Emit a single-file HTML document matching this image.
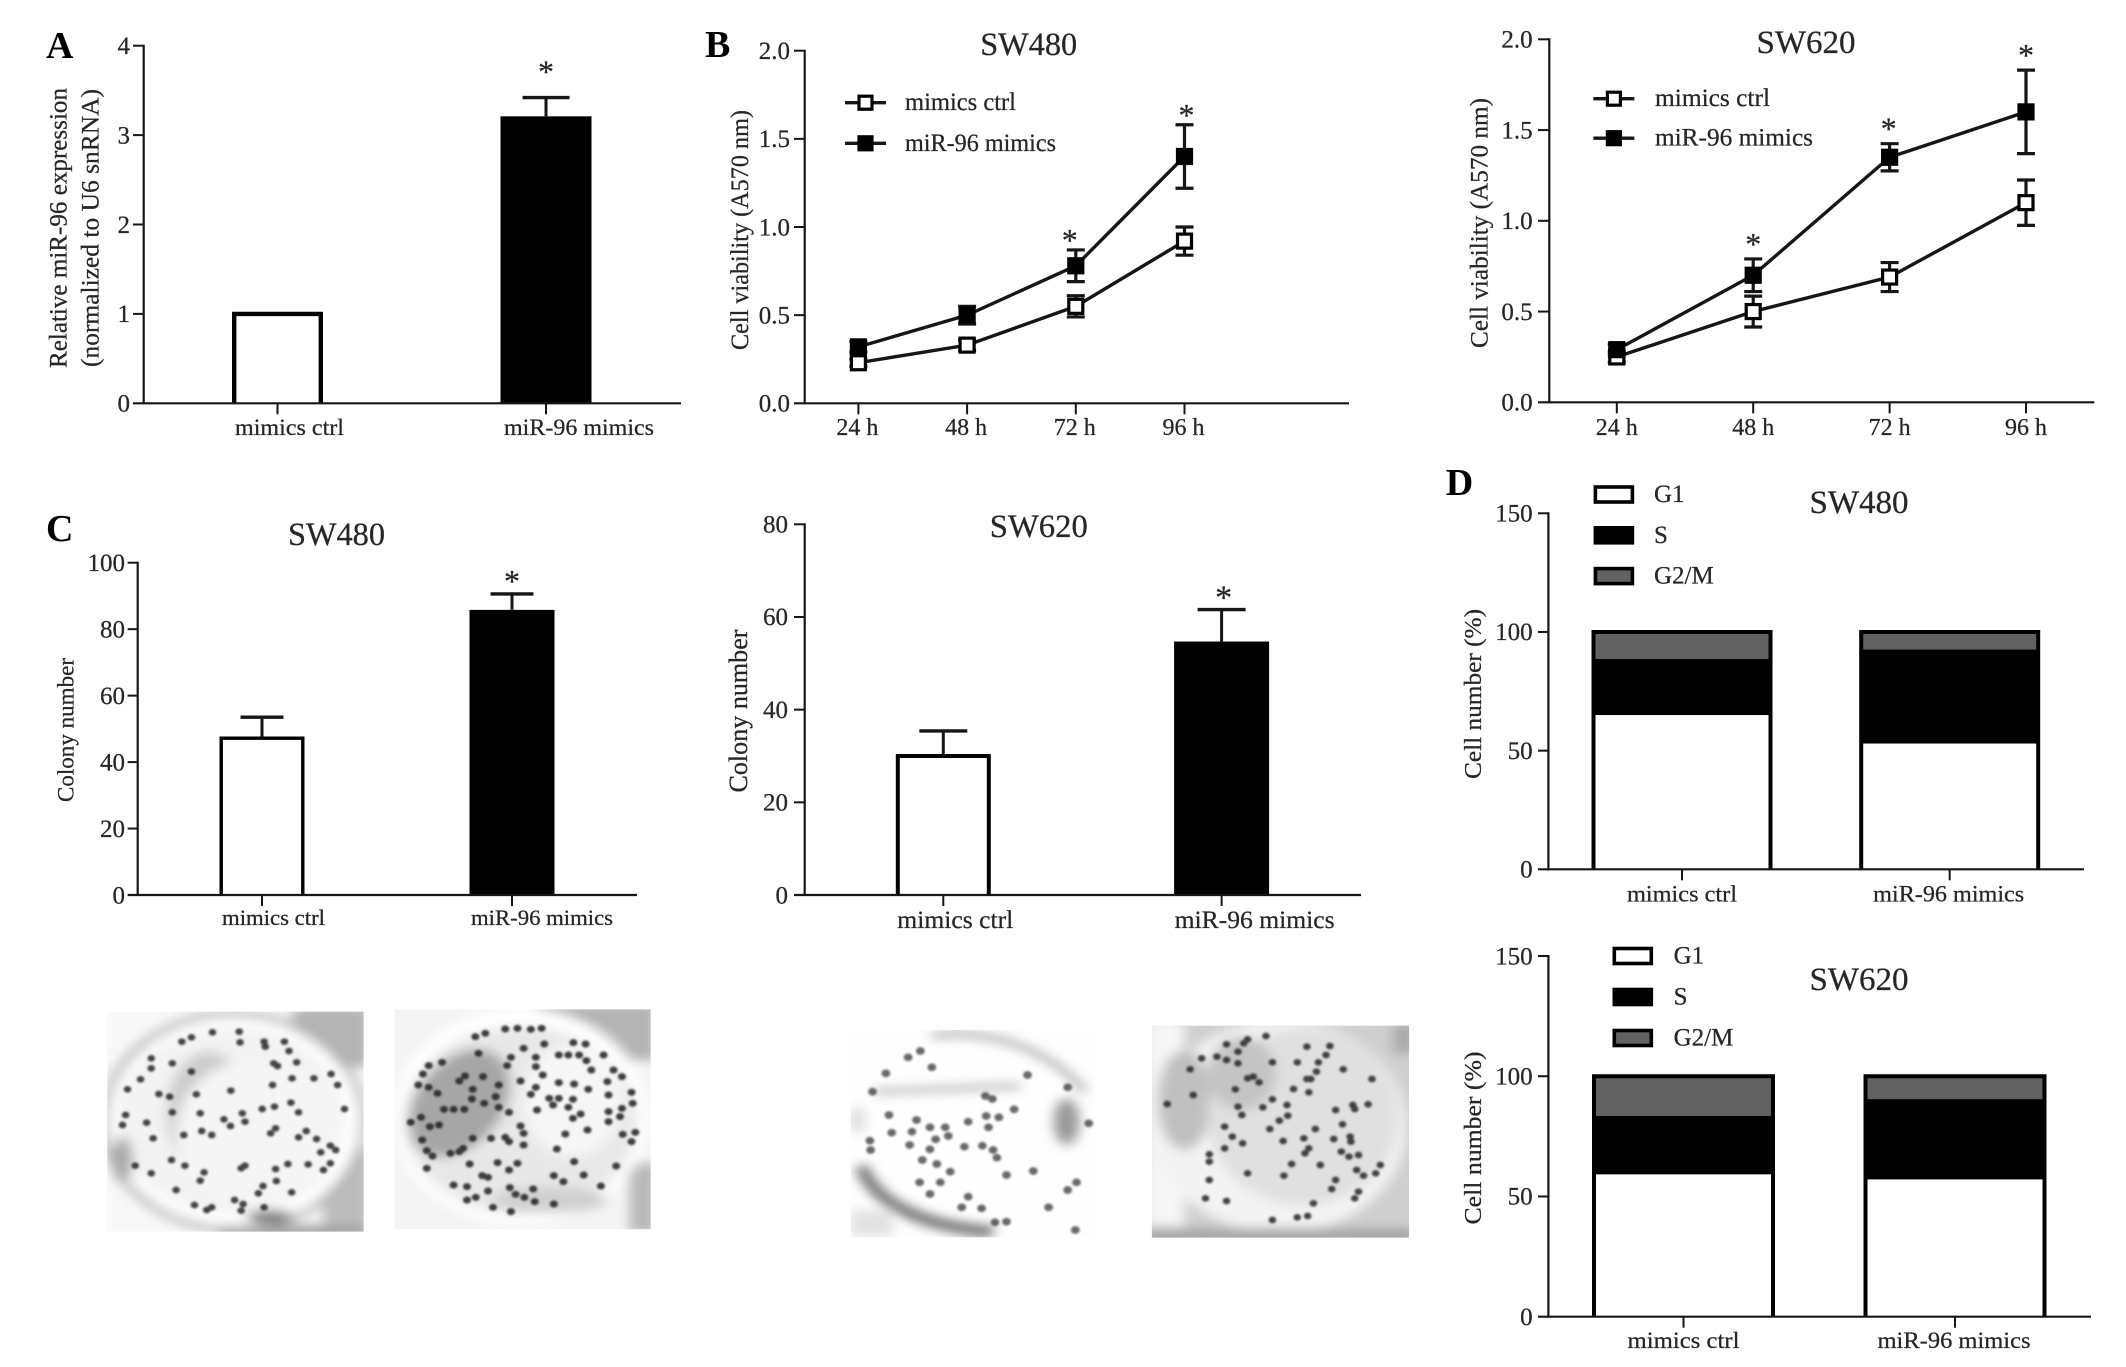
<!DOCTYPE html>
<html lang="en">
<head>
<meta charset="utf-8">
<title>miR-96 figure panels</title>
<style>
html,body{margin:0;padding:0;background:#fff;}
svg{display:block;font-family:"Liberation Serif",serif;}
</style>
</head>
<body>
<svg id="figure" width="2126" height="1367" viewBox="0 0 2126 1367" xmlns="http://www.w3.org/2000/svg">
<defs>
<filter id="soft" x="-10%" y="-10%" width="120%" height="120%"><feGaussianBlur stdDeviation="16"/></filter>
<filter id="dotblur" x="-5%" y="-5%" width="110%" height="110%"><feGaussianBlur stdDeviation="3"/></filter>
<filter id="inkblur" x="-5%" y="-5%" width="110%" height="110%"><feGaussianBlur stdDeviation="0.35"/></filter>
<clipPath id="clip-p1"><rect x="45" y="35" width="670" height="660"/></clipPath>
<clipPath id="clip-p2"><rect x="795" y="28" width="670" height="660"/></clipPath>
<clipPath id="clip-p3"><rect x="28" y="60" width="640" height="622"/></clipPath>
<clipPath id="clip-p4"><rect x="815" y="47" width="672" height="636"/></clipPath>
</defs>
<rect width="2126" height="1367" fill="#fff"/>

<g transform="translate(90,1000) scale(0.3827,0.3333)">
  <g clip-path="url(#clip-p1)">
    <rect x="45" y="35" width="670" height="660" fill="#f8f8f8"/>
    <g filter="url(#soft)">
      <rect x="530" y="20" width="200" height="180" fill="#b4b4b4"/>
      <rect x="610" y="450" width="120" height="260" fill="#bcbcbc"/>
      <rect x="340" y="676" width="380" height="40" fill="#a0a0a0"/>
      <ellipse cx="375" cy="365" rx="340" ry="324" fill="none" stroke="#b0b0b0" stroke-width="18"/>
      <ellipse cx="378" cy="365" rx="326" ry="312" fill="#fff"/>
      <ellipse cx="368" cy="360" rx="298" ry="280" fill="#f3f3f3"/>
      <ellipse cx="310" cy="340" rx="110" ry="185" fill="#cccccc"/>
      <ellipse cx="440" cy="400" rx="215" ry="225" fill="#f5f5f5"/>
      <ellipse cx="470" cy="650" rx="62" ry="20" fill="#7a7a7a"/>
      <ellipse cx="85" cy="480" rx="26" ry="70" fill="#a8a8a8"/>
    </g>
    <path filter="url(#dotblur)" fill="none" stroke="#262626" stroke-width="20" stroke-linecap="round" stroke-opacity=".85" d="M265 112h0M240 125h0M320 97h0M390 95h0M392 127h0M455 125h0M458 140h0M508 125h0M520 153h0M160 175h0M160 205h0M215 190h0M265 215h0M132 238h0M98 268h0M180 282h0M208 290h0M278 283h0M368 272h0M477 255h0M480 190h0M490 198h0M540 187h0M528 235h0M585 235h0M630 222h0M647 255h0M215 337h0M288 340h0M93 345h0M148 368h0M85 375h0M350 358h0M367 378h0M405 365h0M398 340h0M450 327h0M482 320h0M525 308h0M545 337h0M665 327h0M245 405h0M292 393h0M318 405h0M472 400h0M485 385h0M545 412h0M565 393h0M592 417h0M628 437h0M642 450h0M603 457h0M165 415h0M118 497h0M160 520h0M213 480h0M248 497h0M298 517h0M288 542h0M225 570h0M395 505h0M405 497h0M485 507h0M517 492h0M570 493h0M610 510h0M628 490h0M487 543h0M452 558h0M527 577h0M273 615h0M318 622h0M305 630h0M378 600h0M400 612h0M395 632h0M455 622h0M440 580h0"/>
  </g>
  <g clip-path="url(#clip-p2)">
    <rect x="795" y="28" width="670" height="660" fill="#f4f4f4"/>
    <g filter="url(#soft)">
      <rect x="1170" y="10" width="310" height="170" fill="#b4b4b4"/>
      <rect x="1410" y="490" width="70" height="210" fill="#b8b8b8"/>
      <ellipse cx="1125" cy="350" rx="335" ry="325" fill="#fff"/>
      <ellipse cx="1125" cy="360" rx="305" ry="282" fill="#e8e8e8"/>
      <ellipse cx="965" cy="310" rx="115" ry="175" fill="#a6a6a6" transform="rotate(30 965 310)"/>
      <ellipse cx="1260" cy="300" rx="130" ry="170" fill="#f6f6f6"/>
      <ellipse cx="1200" cy="600" rx="150" ry="40" fill="#d0d0d0"/>
    </g>
    <path filter="url(#dotblur)" fill="none" stroke="#222" stroke-width="21" stroke-linecap="round" stroke-opacity=".88" d="M1007 110h0M1033 100h0M1085 87h0M1117 85h0M1152 88h0M1180 85h0M1133 145h0M1187 132h0M1263 128h0M1295 132h0M1015 160h0M1100 172h0M1165 172h0M1225 165h0M1250 165h0M1278 165h0M1297 182h0M1342 165h0M1310 210h0M1368 210h0M885 197h0M920 187h0M870 222h0M980 228h0M965 243h0M1027 230h0M1090 197h0M1165 200h0M1183 225h0M1390 230h0M858 255h0M885 262h0M908 280h0M1068 255h0M1000 268h0M1125 243h0M1165 262h0M1225 248h0M1265 252h0M1302 268h0M1352 245h0M1355 285h0M1415 277h0M1060 290h0M1030 310h0M998 297h0M1200 295h0M1225 295h0M1262 298h0M1210 315h0M1152 283h0M925 328h0M950 328h0M978 328h0M1068 322h0M1095 337h0M1168 330h0M1250 322h0M1282 342h0M1262 355h0M1355 335h0M1355 365h0M1390 325h0M1385 350h0M1418 310h0M865 352h0M838 367h0M888 380h0M912 375h0M1125 378h0M1133 400h0M1133 435h0M1000 415h0M1048 415h0M1095 425h0M1085 412h0M1242 402h0M1300 390h0M1392 403h0M1425 397h0M1415 425h0M868 420h0M975 445h0M965 455h0M880 452h0M895 468h0M942 460h0M1220 447h0M1265 485h0M992 492h0M1065 488h0M1117 490h0M1375 498h0M880 505h0M1095 510h0M1212 527h0M1237 545h0M1290 525h0M1040 532h0M1025 527h0M950 555h0M985 560h0M1097 563h0M1158 567h0M1040 573h0M1112 583h0M1135 592h0M1335 558h0M1008 592h0M1162 605h0M1212 612h0M1053 622h0M1100 635h0M985 600h0"/>
  </g>
</g>

<g transform="translate(840,1010) scale(0.3827,0.3333)">
  <g clip-path="url(#clip-p3)">
    <rect x="28" y="60" width="640" height="622" fill="#fefefe"/>
    <g filter="url(#soft)">
      <path d="M55 470C90 570 200 650 400 665" fill="none" stroke="#707070" stroke-width="34"/>
      <path d="M240 78C400 50 560 130 640 245" fill="none" stroke="#a8a8a8" stroke-width="18"/>
      <path d="M90 245L470 228" fill="none" stroke="#a4a4a4" stroke-width="14"/>
      <ellipse cx="592" cy="335" rx="34" ry="70" fill="#9a9a9a"/>
      <rect x="28" y="600" width="110" height="80" fill="#e2e2e2"/>
      <rect x="28" y="295" width="36" height="70" fill="#dcdcdc"/>
    </g>
    <path filter="url(#dotblur)" fill="none" stroke="#2a2a2a" stroke-width="23" stroke-linecap="round" stroke-opacity=".7" d="M210 123h0M178 142h0M240 172h0M120 190h0M490 195h0M85 245h0M380 258h0M398 267h0M455 298h0M595 232h0M128 315h0M200 330h0M235 352h0M275 352h0M335 335h0M382 318h0M415 322h0M188 365h0M135 368h0M283 378h0M250 388h0M388 352h0M650 340h0M78 392h0M80 420h0M182 405h0M235 418h0M325 410h0M372 407h0M400 420h0M410 443h0M215 450h0M253 462h0M288 485h0M435 495h0M505 483h0M208 517h0M262 517h0M618 517h0M595 540h0M335 560h0M235 552h0M545 592h0M370 595h0M318 592h0M405 637h0M435 635h0M615 660h0"/>
  </g>
  <g clip-path="url(#clip-p4)">
    <rect x="815" y="47" width="672" height="636" fill="#cfcfcf"/>
    <g filter="url(#soft)">
      <rect x="800" y="30" width="100" height="620" fill="#f6f6f6"/>
      <ellipse cx="1150" cy="350" rx="332" ry="320" fill="#f3f3f3"/>
      <ellipse cx="900" cy="270" rx="70" ry="150" fill="#c0c0c0"/>
      <ellipse cx="1210" cy="320" rx="250" ry="265" fill="#e0e0e0"/>
      <ellipse cx="1050" cy="190" rx="90" ry="110" fill="#c4c4c4"/>
      <rect x="800" y="655" width="700" height="50" fill="#a6a6a6"/>
      <rect x="1445" y="40" width="60" height="90" fill="#aaa"/>
    </g>
    <path filter="url(#dotblur)" fill="none" stroke="#262626" stroke-width="20" stroke-linecap="round" stroke-opacity=".85" d="M1113 78h0M1065 88h0M1055 100h0M1010 103h0M1040 125h0M1130 157h0M1040 160h0M1010 150h0M985 140h0M945 145h0M915 178h0M1065 205h0M1080 200h0M1095 217h0M1220 110h0M1280 108h0M1270 135h0M1195 157h0M1250 157h0M1245 185h0M1315 178h0M1220 207h0M1230 207h0M1390 207h0M1225 247h0M1185 237h0M1033 238h0M923 255h0M855 282h0M1130 268h0M1105 292h0M1040 290h0M1168 285h0M1340 285h0M1380 283h0M1345 297h0M1295 300h0M1050 315h0M1170 317h0M1148 332h0M1005 350h0M1123 357h0M1242 357h0M1313 343h0M1025 380h0M1052 400h0M1158 393h0M1212 385h0M1290 387h0M1333 380h0M1335 395h0M1005 415h0M1225 415h0M1215 430h0M1310 425h0M1355 435h0M1330 440h0M1180 462h0M1255 465h0M1412 465h0M1065 490h0M1160 497h0M1350 480h0M1368 497h0M1400 490h0M965 510h0M1295 510h0M1285 537h0M1355 545h0M1345 565h0M955 565h0M1010 573h0M1237 580h0M1130 630h0M1195 622h0M1222 618h0M965 433h0M965 455h0"/>
  </g>
</g>
</svg>

<script>
const NS = 'http://www.w3.org/2000/svg';
const root = document.getElementById('figure');

/* ---------- chart data ---------- */
const barCategories = ['mimics ctrl', 'miR-96 mimics'];
const timeCategories = ['24 h', '48 h', '72 h', '96 h'];
const seriesNames = ['mimics ctrl', 'miR-96 mimics'];
const phaseNames = ['G1', 'S', 'G2/M'];

const expressionTicks = [0, 1, 2, 3, 4];
const expressionValues = [1, 3.21];
const expressionErrors = [0, 0.21];
const expressionStars = ['', '*'];

const viabilityTicks = [0, 0.5, 1, 1.5, 2];

const sw480Ctrl = [0.23, 0.33, 0.55, 0.92];
const sw480CtrlErr = [0.02, 0.03, 0.06, 0.08];
const sw480Mimics = [0.32, 0.50, 0.78, 1.40];
const sw480MimicsErr = [0.03, 0.05, 0.09, 0.18];
const sw480Stars = ['', '', '*', '*'];

const sw620Ctrl = [0.25, 0.50, 0.69, 1.10];
const sw620CtrlErr = [0.03, 0.085, 0.08, 0.125];
const sw620Mimics = [0.29, 0.70, 1.35, 1.60];
const sw620MimicsErr = [0.03, 0.09, 0.075, 0.23];
const sw620Stars = ['', '*', '*', '*'];

const colony480Ticks = [0, 20, 40, 60, 80, 100];
const colony480Values = [47.2, 85.8];
const colony480Errors = [6.3, 4.8];
const colony480Stars = ['', '*'];

const colony620Ticks = [0, 20, 40, 60, 80];
const colony620Values = [30, 54.7];
const colony620Errors = [5.4, 6.9];
const colony620Stars = ['', '*'];

const cycleTicks = [0, 50, 100, 150];
const cycle480G1 = [65, 53];
const cycle480S = [23.6, 39.7];
const cycle480G2M = [11.4, 7.3];
const cycle620G1 = [59.2, 57.1];
const cycle620S = [24.4, 33.4];
const cycle620G2M = [16.4, 9.5];

/* ---------- primitives ---------- */
const INK = '#161616';
const TEXT = '#262626';

function group(parent, name) {
  const el = document.createElementNS(NS, 'g');
  
  
  parent.appendChild(el);
  return el;
}
function line(parent, name, x1, y1, x2, y2, w) {
  const el = document.createElementNS(NS, 'line');
  
  
  el.setAttribute('x1', x1); el.setAttribute('y1', y1);
  el.setAttribute('x2', x2); el.setAttribute('y2', y2);
  el.setAttribute('stroke', INK);
  el.setAttribute('stroke-width', w);
  parent.appendChild(el);
  return el;
}
function rect(parent, name, x, y, w, h, fill, stroke, sw) {
  const el = document.createElementNS(NS, 'rect');
  
  
  el.setAttribute('x', x); el.setAttribute('y', y);
  el.setAttribute('width', w); el.setAttribute('height', h);
  el.setAttribute('fill', fill);
  if (stroke) { el.setAttribute('stroke', stroke); el.setAttribute('stroke-width', sw); }
  parent.appendChild(el);
  return el;
}
function polyline(parent, name, pts, w, color) {
  const el = document.createElementNS(NS, 'polyline');
  
  
  el.setAttribute('points', pts.map(p => p.join(',')).join(' '));
  el.setAttribute('fill', 'none');
  el.setAttribute('stroke', color || INK);
  el.setAttribute('stroke-width', w);
  parent.appendChild(el);
  return el;
}
function text(parent, name, str, x, y, size, o) {
  o = o || {};
  const el = document.createElementNS(NS, 'text');
  
  
  el.setAttribute('font-size', size);
  el.setAttribute('fill', o.fill || TEXT);
  el.setAttribute('text-anchor', o.anchor || 'start');
  if (o.weight) el.setAttribute('font-weight', o.weight);
  else { el.setAttribute('stroke', TEXT); el.setAttribute('stroke-width', '0.25'); }
  if (o.len) { el.setAttribute('textLength', o.len); el.setAttribute('lengthAdjust', 'spacingAndGlyphs'); }
  if (o.rotate) {
    el.setAttribute('transform', 'translate(' + x + ',' + y + ') rotate(-90)');
    el.setAttribute('x', 0); el.setAttribute('y', 0);
  } else {
    el.setAttribute('x', x); el.setAttribute('y', y);
  }
  el.textContent = str;
  parent.appendChild(el);
  return el;
}

/* ---------- axes ---------- */
function linearY(zero, top, max) {
  return v => zero - (v / max) * (zero - top);
}
function bandX(first, step) {
  return i => first + i * step;
}
function drawYAxis(g, c, y, ticks, fmt) {
  line(g, 'y-axis-line', c.axisX, c.top - 1, c.axisX, c.zero + 1, 2.2);
  ticks.forEach(t => {
    if (t !== ticks[0]) line(g, 'y-tick', c.tickLeft, y(t), c.axisX, y(t), 2);
    text(g, 'y-tick-label', fmt(t), c.labelRight, y(t) + c.tickSize * 0.33, c.tickSize, { anchor: 'end' });
  });
}
function drawXAxis(g, c) {
  line(g, 'x-axis-line', c.tickLeft, c.zero, c.xEnd, c.zero, 2.2);
}
function drawTitle(g, str, x, y, size, len) {
  text(g, 'chart-title', str, x, y, size, { anchor: 'middle', len: len });
}
function drawYTitle(g, str, x, cy, size, len, name) {
  text(g, name || 'y-axis-title', str, x, cy, size, { anchor: 'middle', rotate: true, len: len });
}
function drawStar(g, x, y, size) {
  text(g, 'significance-star', '*', x, y + size * 0.47, size, { anchor: 'middle' });
}
function openBox(g, name, left, right, topY, bottomY, w) {
  return polyline(g, name, [[left, bottomY], [left, topY], [right, topY], [right, bottomY]], w, '#000');
}

/* ---------- chart types ---------- */
function barChart(name, c, ticks, cats, vals, errs, stars) {
  const g = group(root, name);
  const y = linearY(c.zero, c.top, c.max);
  const x = bandX(c.first, c.step);
  drawYAxis(g, c, y, ticks, v => String(v));
  vals.forEach((v, i) => {
    const fill = i === 0 ? '#fff' : '#000';
    if (errs[i] > 0) {
      line(g, 'error-stem', x(i), y(v), x(i), y(v + errs[i]), 3);
      line(g, 'error-cap', x(i) - c.cap / 2, y(v + errs[i]), x(i) + c.cap / 2, y(v + errs[i]), 3.4);
    }
    rect(g, 'bar-' + cats[i].replace(/\s+/g, '-').toLowerCase(), x(i) - c.barW / 2, y(v), c.barW, c.zero - y(v), fill);
    if (i === 0) {
      const inset = c.barStroke / 2;
      openBox(g, 'bar-outline', x(i) - c.barW / 2 + inset, x(i) + c.barW / 2 - inset, y(v), c.zero, c.barStroke);
    }
    line(g, 'x-tick', x(i), c.zero, x(i), c.zero + 11, 2);
    text(g, 'x-tick-label', cats[i], x(i) + c.labelDx[i], c.labelY, c.labelSize, { anchor: 'middle', len: c.labelLen[i] });
    if (stars[i]) drawStar(g, x(i) + c.starDx, y(v + errs[i]) - c.starGap, c.starSize);
  });
  drawXAxis(g, c);
  return g;
}
function lineChart(name, c, ticks, cats, names, a, aErr, b, bErr, stars) {
  const g = group(root, name);
  const y = linearY(c.zero, c.top, c.max);
  const x = bandX(c.first, c.step);
  drawYAxis(g, c, y, ticks, v => v.toFixed(1));
  drawXAxis(g, c);
  cats.forEach((cat, i) => {
    line(g, 'x-tick', x(i), c.zero, x(i), c.zero + 11, 2);
    text(g, 'x-tick-label', cat, x(i) + c.labelDx, c.labelY, c.labelSize, { anchor: 'middle' });
  });
  const drawSeries = (vals, errs, fill, sname) => {
    const s = group(g, 'series-' + sname);
    polyline(s, 'series-line', vals.map((v, i) => [x(i), y(v)]), 3.4);
    vals.forEach((v, i) => {
      line(s, 'error-bar', x(i), y(v + errs[i]), x(i), y(v - errs[i]), 3.2);
      line(s, 'error-cap-upper', x(i) - 9, y(v + errs[i]), x(i) + 9, y(v + errs[i]), 3.2);
      line(s, 'error-cap-lower', x(i) - 9, y(v - errs[i]), x(i) + 9, y(v - errs[i]), 3.2);
      rect(s, 'point-marker', x(i) - 7, y(v) - 7, 14, 14, fill, '#000', 3.2);
    });
  };
  drawSeries(a, aErr, '#fff', 'ctrl');
  drawSeries(b, bErr, '#000', 'mimics');
  stars.forEach((st, i) => {
    if (st) drawStar(g, x(i) + c.starDx[i], y(b[i] + bErr[i]) - c.starGap, c.starSize);
  });
  const lg = group(g, 'legend');
  names.forEach((n, i) => {
    const ly = c.legendY + i * c.legendStep;
    line(lg, 'legend-line', c.legendX, ly, c.legendX + 41, ly, 3.4);
    rect(lg, 'legend-marker', c.legendX + 14, ly - 6.5, 13, 13, i === 0 ? '#fff' : '#000', '#000', 3.2);
    text(lg, 'legend-entry', n, c.legendTextX, ly + 7.5, c.legendSize, { len: c.legendLen[i] });
  });
  return g;
}
function stackChart(name, c, ticks, cats, names, g1, s, g2m) {
  const g = group(root, name);
  const y = linearY(c.zero, c.top, c.max);
  const x = bandX(c.first, c.step);
  const fills = ['#fff', '#000', '#626262'];
  drawYAxis(g, c, y, ticks, v => String(v));
  cats.forEach((cat, i) => {
    const layers = [g1[i], s[i], g2m[i]];
    let base = 0;
    layers.forEach((v, k) => {
      rect(g, 'stack-' + names[k].replace('/', '').toLowerCase(), x(i) - c.barW / 2, y(base + v), c.barW, y(base) - y(base + v), fills[k]);
      base += v;
    });
    openBox(g, 'stack-outline', x(i) - c.barW / 2 + 1.5, x(i) + c.barW / 2 - 1.5, y(base), y(0), 4);
    line(g, 'x-tick', x(i), c.zero, x(i), c.zero + 11, 2);
    text(g, 'x-tick-label', cat, x(i) + c.labelDx[i], c.labelY, c.labelSize, { anchor: 'middle', len: c.labelLen[i] });
  });
  drawXAxis(g, c);
  const lg = group(g, 'legend');
  names.forEach((n, k) => {
    const ly = c.legendY + k * c.legendStep;
    rect(lg, 'legend-swatch', c.legendX + 2, ly + 2, 37, 15, fills[k], '#000', 3.6);
    text(lg, 'legend-entry', n, c.legendTextX, ly + 17, c.legendSize);
  });
  return g;
}

/* ---------- panel A ---------- */
const panelA = barChart('panel-a-expression', {
  axisX: 143.7, zero: 403.3, top: 45.7, max: 4, xEnd: 681, tickLeft: 133, labelRight: 130, tickSize: 25,
  first: 277.5, step: 268.5, barW: 91, barStroke: 4.4, cap: 47, labelY: 435, labelSize: 23,
  labelDx: [12, 33], labelLen: [109, 150], starDx: 0, starGap: 30, starSize: 32
}, expressionTicks, barCategories, expressionValues, expressionErrors, expressionStars);
drawYTitle(panelA, 'Relative miR-96 expression', 66.6, 228, 25, 280, 'y-axis-title-line-1');
drawYTitle(panelA, '(normalized to U6 snRNA)', 98.7, 228, 25, 278, 'y-axis-title-line-2');
text(panelA, 'panel-label-a', 'A', 46, 58, 38, { weight: 'bold', fill: '#000' });

/* ---------- panel B ---------- */
const panelB1 = lineChart('panel-b-viability-sw480', {
  axisX: 804.7, zero: 403.3, top: 50.7, max: 2, xEnd: 1349, tickLeft: 794, labelRight: 790, tickSize: 25,
  first: 858.4, step: 108.7, labelY: 435, labelSize: 24, labelDx: -1,
  starDx: [0, 0, -6, 2], starGap: 14, starSize: 32,
  legendX: 845, legendY: 102.7, legendStep: 40.6, legendTextX: 905, legendSize: 25, legendLen: [111, 151]
}, viabilityTicks, timeCategories, seriesNames, sw480Ctrl, sw480CtrlErr, sw480Mimics, sw480MimicsErr, sw480Stars);
drawTitle(panelB1, 'SW480', 1028.7, 55, 33, 97);
drawYTitle(panelB1, 'Cell viability (A570 nm)', 748, 230, 25, 240);
text(panelB1, 'panel-label-b', 'B', 705, 57, 38, { weight: 'bold', fill: '#000' });

const panelB2 = lineChart('panel-b-viability-sw620', {
  axisX: 1549.3, zero: 402.3, top: 39.3, max: 2, xEnd: 2094.3, tickLeft: 1538, labelRight: 1532.6, tickSize: 25,
  first: 1616.8, step: 136.4, labelY: 435, labelSize: 24, labelDx: 0,
  starDx: [0, 0, -1, 0], starGap: 19, starSize: 32,
  legendX: 1593.4, legendY: 98.7, legendStep: 39.5, legendTextX: 1655, legendSize: 25, legendLen: [115, 158]
}, viabilityTicks, timeCategories, seriesNames, sw620Ctrl, sw620CtrlErr, sw620Mimics, sw620MimicsErr, sw620Stars);
drawTitle(panelB2, 'SW620', 1806, 53, 33, 99);
drawYTitle(panelB2, 'Cell viability (A570 nm)', 1487.6, 223, 25, 250);

/* ---------- panel C ---------- */
const panelC1 = barChart('panel-c-colonies-sw480', {
  axisX: 137.7, zero: 895, top: 562.7, max: 100, xEnd: 637, tickLeft: 127.6, labelRight: 125, tickSize: 25,
  first: 262, step: 250, barW: 85, barStroke: 3.4, cap: 43, labelY: 925, labelSize: 22,
  labelDx: [11.5, 30], labelLen: [103, 142], starDx: 0, starGap: 17, starSize: 32
}, colony480Ticks, barCategories, colony480Values, colony480Errors, colony480Stars);
drawTitle(panelC1, 'SW480', 336.5, 545, 33, 97);
drawYTitle(panelC1, 'Colony number', 73.5, 730, 23, 144);
text(panelC1, 'panel-label-c', 'C', 46, 541, 38, { weight: 'bold', fill: '#000' });

const panelC2 = barChart('panel-c-colonies-sw620', {
  axisX: 804.7, zero: 895, top: 524.3, max: 80, xEnd: 1361, tickLeft: 794, labelRight: 788, tickSize: 25,
  first: 943.3, step: 278.3, barW: 95, barStroke: 4, cap: 48, labelY: 928, labelSize: 25,
  labelDx: [12, 33], labelLen: [116, 160], starDx: 2, starGap: 17, starSize: 34
}, colony620Ticks, barCategories, colony620Values, colony620Errors, colony620Stars);
drawTitle(panelC2, 'SW620', 1038.8, 537, 33, 98);
drawYTitle(panelC2, 'Colony number', 747, 711, 26, 163);

/* ---------- panel D ---------- */
const panelD1 = stackChart('panel-d-cycle-sw480', {
  axisX: 1548.4, zero: 869.3, top: 513.3, max: 150, xEnd: 2084, tickLeft: 1538, labelRight: 1532.6, tickSize: 25,
  first: 1682, step: 267.7, barW: 180, labelY: 901.7, labelSize: 23,
  labelDx: [0, -1], labelLen: [110, 151],
  legendX: 1593.4, legendY: 485, legendStep: 40.8, legendTextX: 1654, legendSize: 25
}, cycleTicks, barCategories, phaseNames, cycle480G1, cycle480S, cycle480G2M);
drawTitle(panelD1, 'SW480', 1859, 513, 33, 99);
drawYTitle(panelD1, 'Cell number (%)', 1480.8, 694, 24, 170);
text(panelD1, 'panel-label-d', 'D', 1445.7, 495, 38, { weight: 'bold', fill: '#000' });

const panelD2 = stackChart('panel-d-cycle-sw620', {
  axisX: 1548.4, zero: 1316.7, top: 956, max: 150, xEnd: 2091, tickLeft: 1538, labelRight: 1532.6, tickSize: 25,
  first: 1683.5, step: 271.5, barW: 182, labelY: 1348, labelSize: 23,
  labelDx: [0, -1], labelLen: [112, 153],
  legendX: 1612.3, legendY: 946.5, legendStep: 41, legendTextX: 1673.6, legendSize: 25
}, cycleTicks, barCategories, phaseNames, cycle620G1, cycle620S, cycle620G2M);
drawTitle(panelD2, 'SW620', 1859, 990, 33, 99);
drawYTitle(panelD2, 'Cell number (%)', 1480.8, 1138, 24, 173);

[panelA, panelB1, panelB2, panelC1, panelC2, panelD1, panelD2].forEach(p => p.setAttribute('filter', 'url(#inkblur)'));
</script>
</body>
</html>
